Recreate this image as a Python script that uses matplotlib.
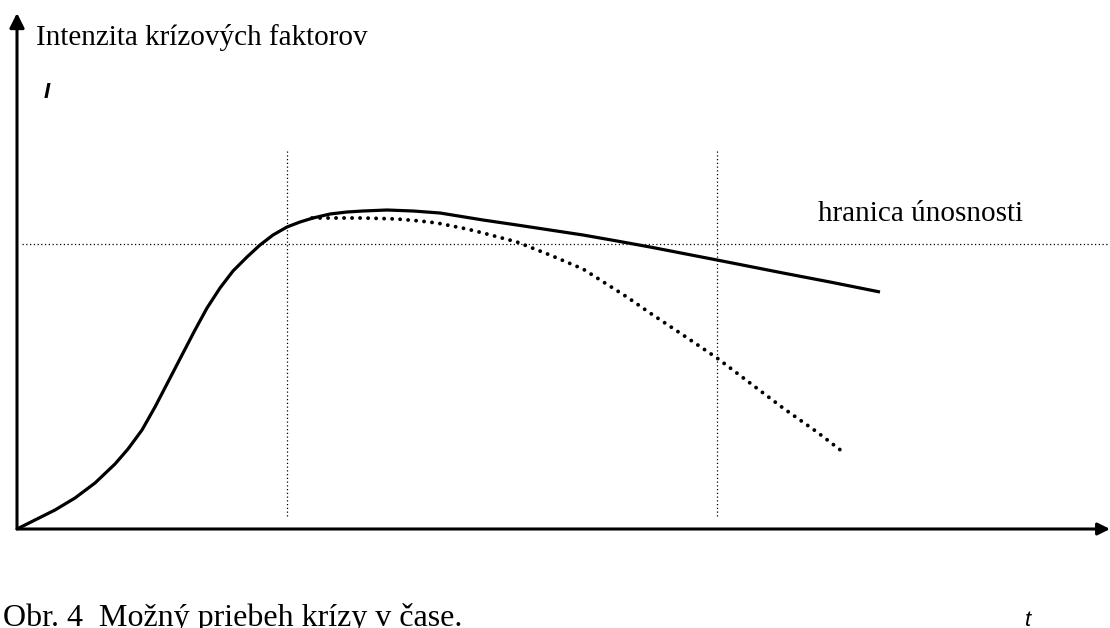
import matplotlib
matplotlib.use("Agg")
import matplotlib.pyplot as plt

# časová os a intenzita (jednotky odčítané z obrázka)
solid_t = [0, 18, 38, 58, 78, 98, 111, 125, 138, 151, 165, 178, 190, 203, 216,
           230, 243, 256, 270, 283, 296, 313, 330, 346, 370, 396, 423, 466, 500,
           533, 566, 600, 633, 700, 766, 813, 863]
solid_i = [0, 9, 19, 31, 46, 65, 80, 99, 122, 147, 174, 199, 221, 241, 258,
           272, 284, 294, 302, 307, 311, 315, 317, 318, 319, 318, 316, 309, 304,
           299, 294, 288, 282, 269, 256, 247, 237]

dotted_t = [295, 320, 346, 380, 403, 420, 450, 466, 500, 533, 566, 610, 633,
            666, 700, 733, 766, 800, 826]
dotted_i = [311, 311, 311, 310, 308, 306, 300, 296, 287, 274, 260, 232, 216,
            194, 171, 146, 121, 97, 77]

threshold = 285
marker_t = [270, 700]
marker_range = (13, 379)

axis_x_end = 1093
axis_y_end = 516

ylabel = "Intenzita krízových faktorov"
ysymbol = "I"
xsymbol = "t"
threshold_label = "hranica únosnosti"
caption = "Obr. 4  Možný priebeh krízy v čase."

fig = plt.figure(figsize=(11.1, 6.28), dpi=100)
ax = fig.add_axes([0, 0, 1, 1])
ax.set_xlim(-17, 1093)
ax.set_ylim(-99, 529)
ax.axis("off")

serif = "Liberation Serif"
sans = "Liberation Sans"

# osi so šípkami
ax.annotate("", xy=(0, axis_y_end), xytext=(0, 0),
            arrowprops=dict(arrowstyle="-|>", lw=2.2, color="black",
                            mutation_scale=22, shrinkA=0, shrinkB=0))
ax.annotate("", xy=(axis_x_end, 0), xytext=(0, 0),
            arrowprops=dict(arrowstyle="-|>", lw=2.2, color="black",
                            mutation_scale=18, shrinkA=0, shrinkB=0))

# pomocné bodkované čiary
for t in marker_t:
    ax.plot([t, t], marker_range, color="black", lw=0.9, linestyle=(0, (1, 2)))
ax.plot([5, 1091], [threshold, threshold], color="black", lw=0.9, linestyle=(0, (1, 2)))

# priebehy
ax.plot(solid_t, solid_i, color="black", lw=2.3, solid_joinstyle="round",
        solid_capstyle="butt")
ax.plot(dotted_t, dotted_i, color="black", lw=2.8, linestyle=(0, (0.01, 2.05)),
        dash_capstyle="round")

ax.text(19, 484, ylabel, family=serif, fontsize=21, ha="left", va="baseline")
ax.text(27, 431, ysymbol, family=sans, fontsize=16, fontweight="bold",
        style="italic", ha="left", va="baseline")
ax.text(801, 308, threshold_label, family=serif, fontsize=21, ha="left", va="baseline")
ax.text(-14, -97, caption, family=serif, fontsize=23, ha="left", va="baseline")
ax.text(1008, -97, xsymbol, family=sans, fontsize=16, style="italic",
        ha="left", va="baseline")

fig.savefig("out.png", dpi=100)
